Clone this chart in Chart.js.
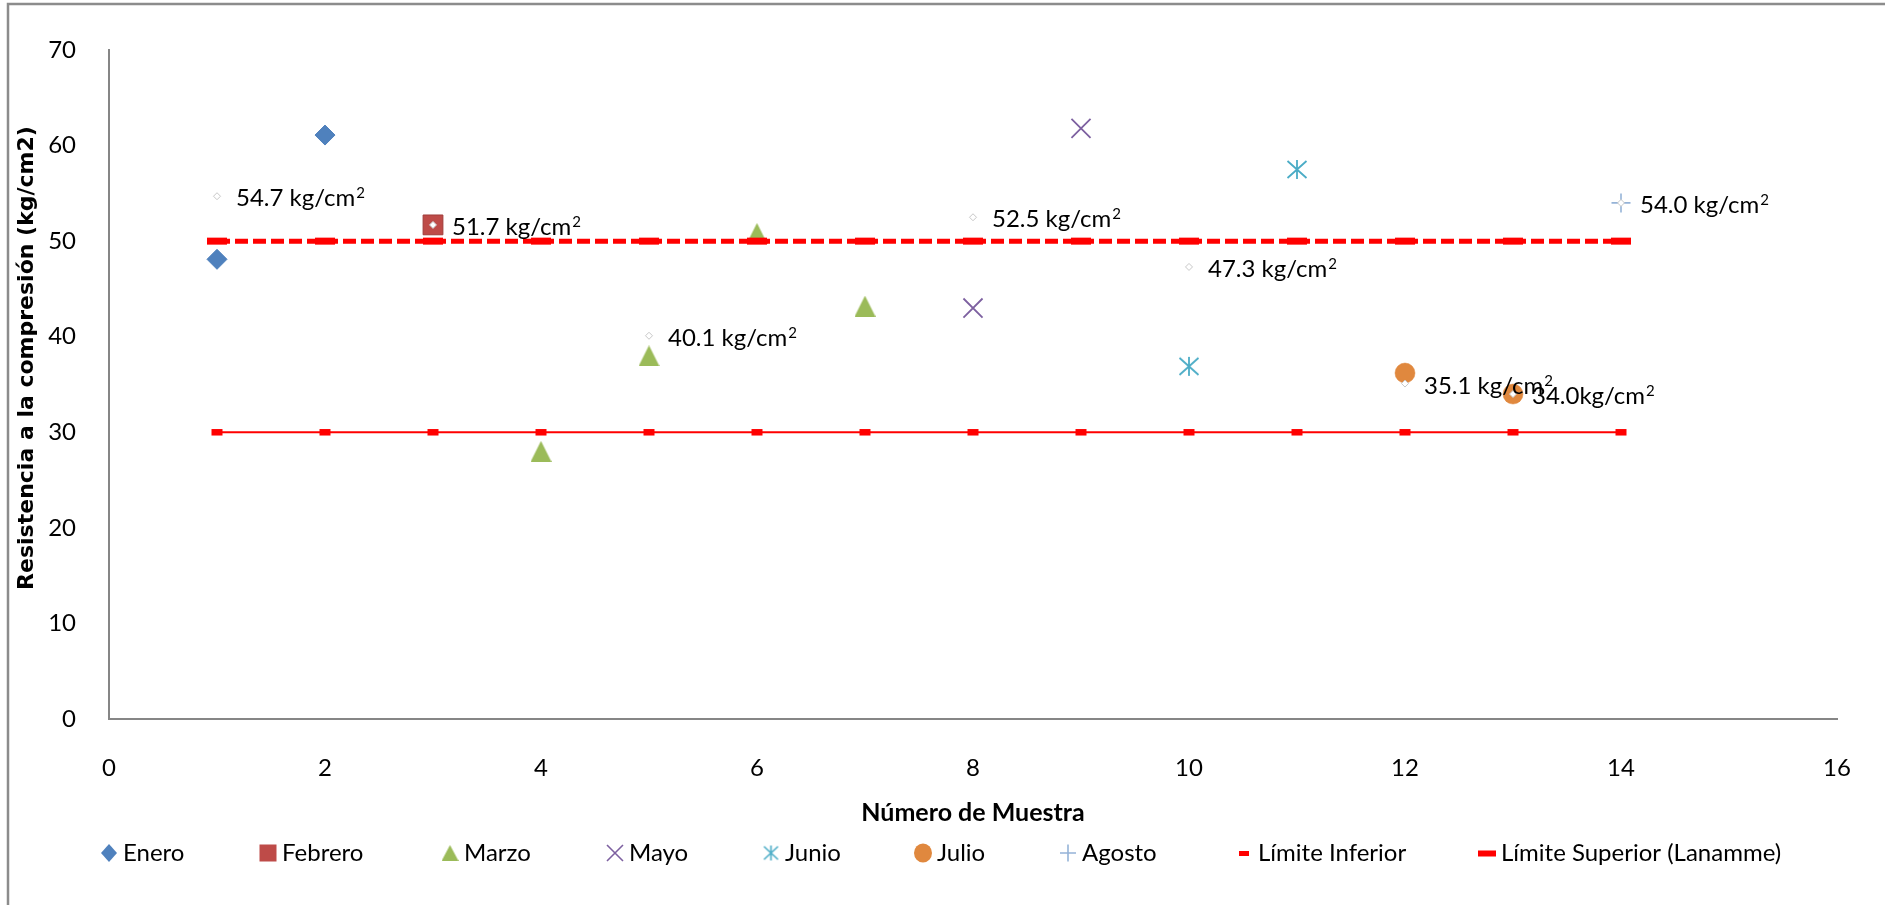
<!DOCTYPE html>
<html lang="es">
<head>
<meta charset="utf-8">
<title>Resistencia a la compresión por número de muestra</title>
<script src="https://cdn.jsdelivr.net/npm/chart.js@4.4.1/dist/chart.umd.min.js"></script>
<style>
  html, body { margin: 0; padding: 0; background: #ffffff; }
  #wrap { width: 1885px; height: 905px; position: relative; }
  canvas { display: block; }
</style>
</head>
<body>
<div id="wrap"><canvas id="grafico" width="1885" height="905"></canvas></div>
<script>
// Número de muestra y resistencia (kg/cm2) por mes
const muestraEnero = [1, 2];
const valorEnero = [48.1, 61.1];
const muestraFebrero = [3];
const valorFebrero = [51.7];
const muestraMarzo = [4, 5, 6, 7];
const valorMarzo = [28.0, 38.0, 50.8, 43.2];
const muestraMayo = [8, 9];
const valorMayo = [43.0, 61.8];
const muestraJunio = [10, 11];
const valorJunio = [36.9, 57.5];
const muestraJulio = [12, 13];
const valorJulio = [36.2, 34.0];
const muestraAgosto = [14];
const valorAgosto = [54.0];

// Promedios mensuales con su etiqueta
const muestraPromedio = [1, 3, 5, 8, 10, 12, 13, 14];
const valorPromedio = [54.7, 51.7, 40.1, 52.5, 47.3, 35.1, 34.0, 54.0];
const separadorUnidad = [' ', ' ', ' ', ' ', ' ', ' ', '', ' '];

// Límites de especificación
const muestraLimite = [1, 2, 3, 4, 5, 6, 7, 8, 9, 10, 11, 12, 13, 14];
const valorLimiteInferior = [30, 30, 30, 30, 30, 30, 30, 30, 30, 30, 30, 30, 30, 30];
const valorLimiteSuperior = [50, 50, 50, 50, 50, 50, 50, 50, 50, 50, 50, 50, 50, 50];

// Ejes
const ejeX = { min: 0, max: 16, paso: 2 };
const ejeY = { min: 0, max: 70, paso: 10 };
const tituloX = 'Número de Muestra';
const tituloY = 'Resistencia a la compresión (kg/cm2)';

const FUENTE = '"Lato", "Liberation Sans", sans-serif';

const colores = {
  enero: '#4F81BD',
  febrero: '#BE4B48',
  febreroBorde: '#A03C39',
  marzo: '#9BBB59',
  mayo: '#7D60A0',
  junio: '#4BACC6',
  julio: '#E0883E',
  agosto: '#95B3D7',
  limite: '#FF0000',
  eje: '#868686'
};

function pares(xs, ys) {
  return xs.map((x, i) => ({ x: x, y: ys[i] }));
}

// Marcadores dibujados a mano (triángulo centrado en su caja y asterisco de 6 brazos)
function imagenTriangulo(w, h, color) {
  const c = document.createElement('canvas');
  c.width = w; c.height = h;
  const g = c.getContext('2d');
  g.fillStyle = color;
  g.beginPath();
  g.moveTo(w / 2, 0);
  g.lineTo(w, h);
  g.lineTo(0, h);
  g.closePath();
  g.fill();
  return c;
}
function imagenAsterisco(w, h, color, lw) {
  const c = document.createElement('canvas');
  c.width = w; c.height = h;
  const g = c.getContext('2d');
  g.strokeStyle = color;
  g.lineWidth = lw;
  g.beginPath();
  g.moveTo(w / 2, 1); g.lineTo(w / 2, h - 1);
  g.moveTo(1.5, 2); g.lineTo(w - 1.5, h - 2);
  g.moveTo(w - 1.5, 2); g.lineTo(1.5, h - 2);
  g.stroke();
  return c;
}

const triangulo = imagenTriangulo(21, 21, colores.marzo);
const asterisco = imagenAsterisco(22, 21, colores.junio, 1.8);
const trianguloLeyenda = imagenTriangulo(17, 16, colores.marzo);
const asteriscoLeyenda = imagenAsterisco(17, 17, colores.junio, 1.6);

// Fondo blanco y marco exterior
const fondo = {
  id: 'fondo',
  beforeDraw(chart) {
    const ctx = chart.ctx;
    ctx.save();
    ctx.fillStyle = '#ffffff';
    ctx.fillRect(0, 0, chart.width, chart.height);
    ctx.strokeStyle = '#8C8C8C';
    ctx.lineWidth = 2.5;
    ctx.beginPath();
    ctx.moveTo(8, chart.height);
    ctx.lineTo(8, 4);
    ctx.lineTo(chart.width, 4);
    ctx.stroke();
    ctx.restore();
  }
};

// Etiquetas de los promedios: "xx.x kg/cm²"
const etiquetas = {
  id: 'etiquetas',
  afterDatasetsDraw(chart) {
    const idx = chart.data.datasets.findIndex(d => d.etiquetado);
    if (idx < 0) return;
    const meta = chart.getDatasetMeta(idx);
    const ctx = chart.ctx;
    ctx.save();
    ctx.fillStyle = '#000000';
    ctx.textAlign = 'left';
    ctx.textBaseline = 'alphabetic';
    meta.data.forEach((pt, i) => {
      const texto = valorPromedio[i].toFixed(1) + separadorUnidad[i] + 'kg/cm';
      const x = pt.x + 19;
      const y = pt.y;
      ctx.font = '24px ' + FUENTE;
      ctx.fillText(texto, x, y + 10);
      const ancho = ctx.measureText(texto).width;
      ctx.font = '15px ' + FUENTE;
      ctx.fillText('2', x + ancho + 1, y + 2);
    });
    ctx.restore();
  }
};

// Títulos de los ejes
const titulos = {
  id: 'titulos',
  afterDraw(chart) {
    const ctx = chart.ctx;
    const area = chart.chartArea;
    ctx.save();
    ctx.fillStyle = '#000000';
    ctx.textAlign = 'center';
    ctx.textBaseline = 'middle';
    ctx.font = 'bold 25px ' + FUENTE;
    ctx.fillText(tituloX, (area.left + area.right) / 2, 813);
    ctx.translate(27, 358);
    ctx.rotate(-Math.PI / 2);
    ctx.font = 'bold 22px "DejaVu Sans", sans-serif';
    ctx.fillText(tituloY, 0, 0);
    ctx.restore();
  }
};

// Leyenda inferior
const leyenda = {
  id: 'leyenda',
  afterDraw(chart, args, opts) {
    const ctx = chart.ctx;
    const y = opts.y;
    ctx.save();
    opts.items.forEach(item => {
      const x = item.x;
      ctx.save();
      switch (item.marca) {
        case 'rombo':
          ctx.fillStyle = colores.enero;
          ctx.beginPath();
          ctx.moveTo(x, y - 9); ctx.lineTo(x + 8, y); ctx.lineTo(x, y + 9); ctx.lineTo(x - 8, y);
          ctx.closePath(); ctx.fill();
          break;
        case 'cuadro':
          ctx.fillStyle = colores.febrero;
          ctx.fillRect(x - 8.5, y - 8.5, 17, 17);
          break;
        case 'triangulo':
          ctx.drawImage(trianguloLeyenda, x - 8.5, y - 8);
          break;
        case 'equis':
          ctx.strokeStyle = colores.mayo; ctx.lineWidth = 1.6;
          ctx.beginPath();
          ctx.moveTo(x - 8, y - 8); ctx.lineTo(x + 8, y + 8);
          ctx.moveTo(x + 8, y - 8); ctx.lineTo(x - 8, y + 8);
          ctx.stroke();
          break;
        case 'asterisco':
          ctx.drawImage(asteriscoLeyenda, x - 8.5, y - 8.5);
          break;
        case 'circulo':
          ctx.fillStyle = colores.julio;
          ctx.beginPath();
          ctx.ellipse(x, y, 9, 9.5, 0, 0, Math.PI * 2);
          ctx.fill();
          break;
        case 'cruz':
          ctx.strokeStyle = colores.agosto; ctx.lineWidth = 1.6;
          ctx.beginPath();
          ctx.moveTo(x - 8, y); ctx.lineTo(x + 8, y);
          ctx.moveTo(x, y - 8.5); ctx.lineTo(x, y + 8.5);
          ctx.stroke();
          break;
        case 'limiteInf':
          ctx.fillStyle = colores.limite;
          ctx.fillRect(x - 5, y - 2, 10, 5);
          break;
        case 'limiteSup':
          ctx.fillStyle = colores.limite;
          ctx.fillRect(x - 9, y - 2.5, 18, 6);
          break;
      }
      ctx.restore();
      ctx.fillStyle = '#000000';
      ctx.font = '24px ' + FUENTE;
      ctx.textAlign = 'left';
      ctx.textBaseline = 'middle';
      ctx.fillText(item.texto, x + 14, y);
    });
    ctx.restore();
  }
};

function dibujar() {
  new Chart(document.getElementById('grafico'), {
    type: 'scatter',
    data: {
      datasets: [
        {
          label: 'Promedio',
          etiquetado: true,
          data: pares(muestraPromedio, valorPromedio),
          pointStyle: 'rectRot',
          pointRadius: 3.5,
          backgroundColor: '#ffffff',
          borderColor: '#C8C8C8',
          borderWidth: 1,
          order: 1
        },
        {
          label: 'Enero',
          data: pares(muestraEnero, valorEnero),
          pointStyle: 'rectRot',
          pointRadius: 10,
          backgroundColor: colores.enero,
          borderColor: colores.enero,
          borderWidth: 1,
          order: 3
        },
        {
          label: 'Febrero',
          data: pares(muestraFebrero, valorFebrero),
          pointStyle: 'rect',
          pointRadius: 14,
          backgroundColor: colores.febrero,
          borderColor: colores.febreroBorde,
          borderWidth: 1,
          order: 3
        },
        {
          label: 'Marzo',
          data: pares(muestraMarzo, valorMarzo),
          pointStyle: triangulo,
          pointRadius: 10,
          backgroundColor: colores.marzo,
          borderColor: colores.marzo,
          order: 3
        },
        {
          label: 'Mayo',
          data: pares(muestraMayo, valorMayo),
          pointStyle: 'crossRot',
          pointRadius: 13.5,
          backgroundColor: colores.mayo,
          borderColor: colores.mayo,
          borderWidth: 1.8,
          order: 3
        },
        {
          label: 'Junio',
          data: pares(muestraJunio, valorJunio),
          pointStyle: asterisco,
          pointRadius: 10,
          backgroundColor: colores.junio,
          borderColor: colores.junio,
          order: 3
        },
        {
          label: 'Julio',
          data: pares(muestraJulio, valorJulio),
          pointStyle: 'circle',
          pointRadius: 10,
          backgroundColor: colores.julio,
          borderColor: colores.julio,
          borderWidth: 0.5,
          order: 3
        },
        {
          label: 'Agosto',
          data: pares(muestraAgosto, valorAgosto),
          pointStyle: 'cross',
          pointRadius: 9.5,
          backgroundColor: colores.agosto,
          borderColor: colores.agosto,
          borderWidth: 1.6,
          order: 3
        },
        {
          label: 'Límite Inferior',
          data: pares(muestraLimite, valorLimiteInferior),
          showLine: true,
          borderColor: colores.limite,
          backgroundColor: colores.limite,
          borderWidth: 2,
          pointStyle: 'line',
          pointRadius: 5.5,
          pointBorderWidth: 6.5,
          pointBorderColor: colores.limite,
          order: 2
        },
        {
          label: 'Límite Superior (Lanamme)',
          data: pares(muestraLimite, valorLimiteSuperior),
          showLine: true,
          borderColor: colores.limite,
          backgroundColor: colores.limite,
          borderWidth: 5,
          borderDash: [13, 5],
          pointStyle: 'line',
          pointRadius: 10,
          pointBorderWidth: 7,
          pointBorderColor: colores.limite,
          order: 2
        }
      ]
    },
    options: {
      responsive: false,
      animation: false,
      devicePixelRatio: 1,
      layout: { padding: { top: 50, right: 48, bottom: 0, left: 0 } },
      scales: {
        x: {
          type: 'linear',
          position: 'bottom',
          min: ejeX.min,
          max: ejeX.max,
          grid: { display: false },
          border: { display: true, color: colores.eje, width: 2 },
          ticks: {
            stepSize: ejeX.paso,
            padding: 27,
            color: '#000000',
            font: { family: FUENTE, size: 24 }
          },
          afterFit(scale) { scale.height = 186; }
        },
        y: {
          type: 'linear',
          min: ejeY.min,
          max: ejeY.max,
          grid: { display: false },
          border: { display: true, color: colores.eje, width: 2 },
          ticks: {
            stepSize: ejeY.paso,
            padding: 25,
            color: '#000000',
            font: { family: FUENTE, size: 24 }
          },
          afterFit(scale) { scale.width = 109; }
        }
      },
      plugins: {
        legend: { display: false },
        tooltip: { enabled: false },
        leyenda: {
          y: 853,
          items: [
            { texto: 'Enero', marca: 'rombo', x: 109 },
            { texto: 'Febrero', marca: 'cuadro', x: 268 },
            { texto: 'Marzo', marca: 'triangulo', x: 450 },
            { texto: 'Mayo', marca: 'equis', x: 615 },
            { texto: 'Junio', marca: 'asterisco', x: 771 },
            { texto: 'Julio', marca: 'circulo', x: 923 },
            { texto: 'Agosto', marca: 'cruz', x: 1068 },
            { texto: 'Límite Inferior', marca: 'limiteInf', x: 1244 },
            { texto: 'Límite Superior (Lanamme)', marca: 'limiteSup', x: 1487 }
          ]
        }
      }
    },
    plugins: [fondo, etiquetas, titulos, leyenda]
  });
}

const cargas = [
  '24px Lato', 'bold 25px Lato', '15px Lato', 'bold 22px "DejaVu Sans"'
].map(f => document.fonts.load(f).catch(() => null));
Promise.all(cargas).then(dibujar, dibujar);
</script>
</body>
</html>
